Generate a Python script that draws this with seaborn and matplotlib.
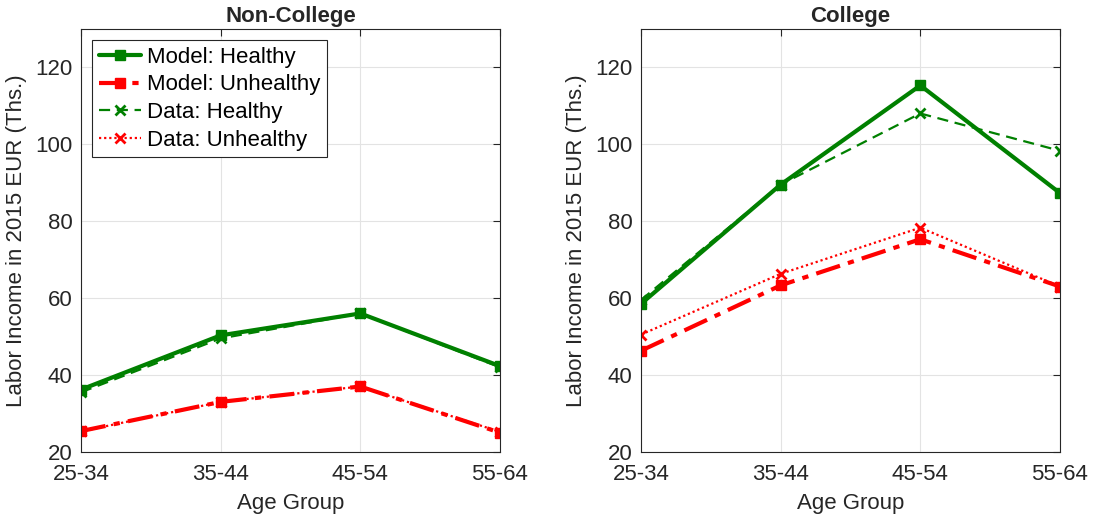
import matplotlib
matplotlib.use("Agg")
import matplotlib.pyplot as plt
import seaborn as sns
import pandas as pd

age_groups = ["25-34", "35-44", "45-54", "55-64"]
nc_model_healthy = [36.2, 50.3, 56.0, 42.3]
nc_model_unhealthy = [25.4, 33.0, 37.0, 25.0]
nc_data_healthy = [35.5, 49.5, 56.0, 42.0]
nc_data_unhealthy = [25.3, 33.0, 37.0, 25.2]
c_model_healthy = [58.5, 89.5, 115.3, 87.3]
c_model_unhealthy = [46.3, 63.3, 75.3, 63.0]
c_data_healthy = [59.5, 89.5, 108.0, 98.3]
c_data_unhealthy = [50.5, 66.3, 78.3, 63.0]

sns.set_style("whitegrid")
plt.rcParams['font.family'] = ['Liberation Sans', 'DejaVu Sans']

fig = plt.figure(figsize=(10.95, 5.23), dpi=100)
ax1 = fig.add_axes([0.074, 0.136, 0.3826, 0.8088])
ax2 = fig.add_axes([0.5854, 0.136, 0.3826, 0.8088])

green = "#008000"
red = "#ff0000"
styles = [
    ("Model: Healthy", green, "-", "s", 3.0, 7),
    ("Model: Unhealthy", red, (0, (6, 2, 1.5, 2)), "s", 3.0, 7),
    ("Data: Healthy", green, (0, (5, 3)), "x", 1.6, 7),
    ("Data: Unhealthy", red, (0, (1, 1.3)), "x", 1.6, 7),
]
FS = 16

def draw(ax, series, title):
    x = list(range(len(age_groups)))
    for (label, col, ls, mk, lw, ms), vals in zip(styles, series):
        df = pd.DataFrame({"x": x, "y": vals})
        sns.lineplot(data=df, x="x", y="y", ax=ax, color=col, linestyle=ls,
                     marker=mk, linewidth=lw, markersize=ms, label=label,
                     markeredgecolor=col, markeredgewidth=2.0 if mk == "x" else 1.0,
                     legend=False)
    ax.set_xlim(0, 3)
    ax.set_ylim(20, 130)
    ax.set_xticks(x)
    ax.set_xticklabels(age_groups)
    ax.set_yticks([20, 40, 60, 80, 100, 120])
    ax.set_title(title, fontsize=16, fontweight="bold", pad=5)
    ax.set_xlabel("Age Group", fontsize=FS, color="#262626")
    ax.set_ylabel("Labor Income in 2015 EUR (Ths.)", fontsize=FS, color="#262626")
    ax.xaxis.set_label_coords(0.5, -0.097)
    ax.yaxis.set_label_coords(-0.128, 0.5)
    ax.tick_params(axis="both", labelsize=FS, colors="#262626", direction="in",
                   length=5, width=0.8, top=True, right=True)
    ax.tick_params(axis="x", pad=9)
    ax.tick_params(axis="y", pad=6)
    ax.grid(True, color="#e3e3e3", linewidth=0.8)
    for s in ax.spines.values():
        s.set_visible(True)
        s.set_color("#262626")
        s.set_linewidth(0.8)

draw(ax1, [nc_model_healthy, nc_model_unhealthy, nc_data_healthy, nc_data_unhealthy], "Non-College")
draw(ax2, [c_model_healthy, c_model_unhealthy, c_data_healthy, c_data_unhealthy], "College")

h, l = ax1.get_lines(), [s[0] for s in styles]
leg = ax1.legend(h[:4], l, loc="upper left", fontsize=FS, frameon=True, fancybox=False,
                 edgecolor="#262626", framealpha=1, borderpad=0.3, labelspacing=0.3,
                 handlelength=1.9, handletextpad=0.25, borderaxespad=0.5)
for t in leg.get_texts():
    t.set_color("black")
leg.get_frame().set_linewidth(0.8)

fig.savefig("out.png", dpi=100)
